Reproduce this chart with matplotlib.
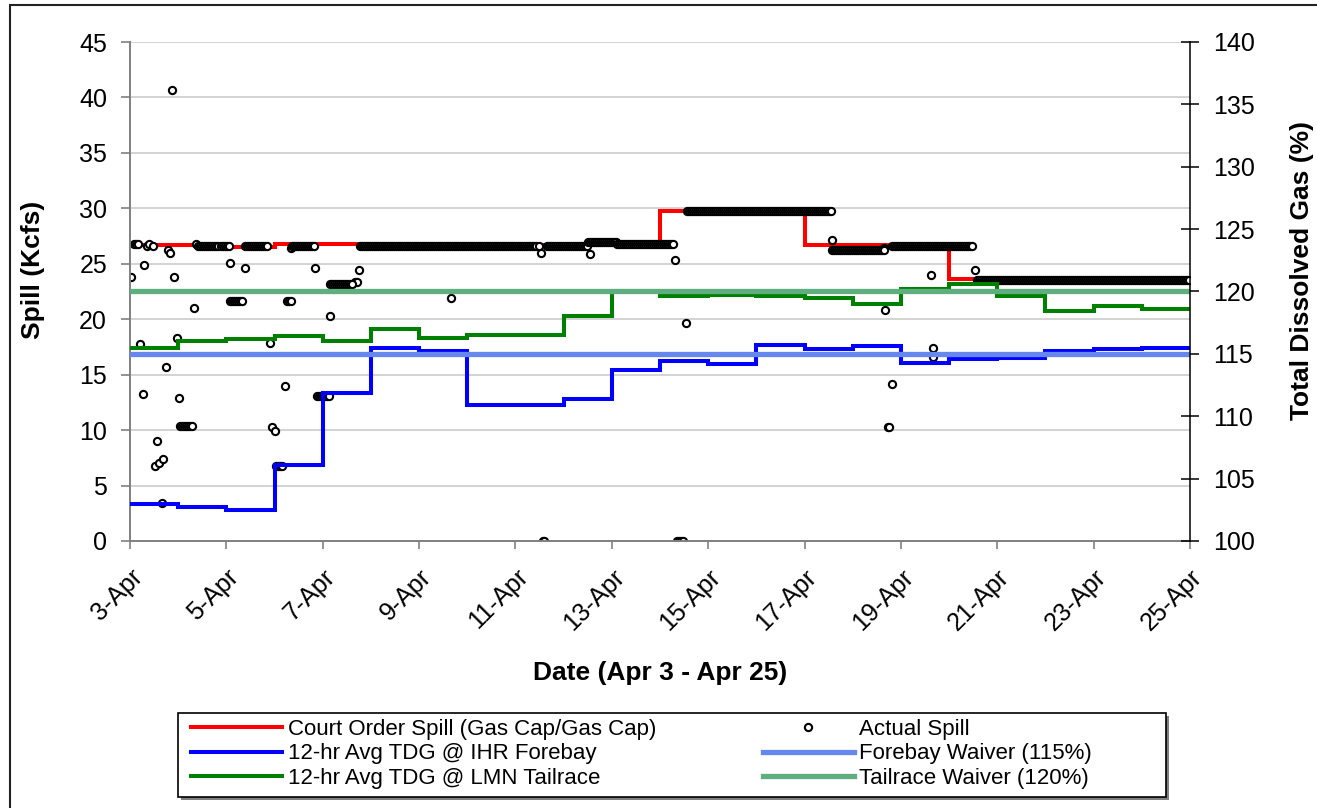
import matplotlib
matplotlib.use("Agg")
import matplotlib.pyplot as plt
import matplotlib.transforms as mtransforms
from matplotlib.patches import Rectangle
import numpy as np

plt.rcParams['font.family'] = ['Liberation Sans', 'DejaVu Sans']

# x axis: days after Apr 3 (0 = 3-Apr 00:00)
tick_days = [0, 2, 4, 6, 8, 10, 12, 14, 16, 18, 20, 22]
tick_labels = ["3-Apr", "5-Apr", "7-Apr", "9-Apr", "11-Apr", "13-Apr",
               "15-Apr", "17-Apr", "19-Apr", "21-Apr", "23-Apr", "25-Apr"]

# Court order spill (Kcfs), step changes
court_edges = [0, 1.4, 3, 8, 11, 14, 17, 22]
court_spill = [26.7, 26.5, 26.8, 26.7, 29.8, 26.7, 23.6]

# Actual hourly spill (Kcfs): isolated readings (day, kcfs)
spill_pts = [
    (0.03, 23.8), (0.21, 17.8), (0.26, 13.3), (0.30, 24.9), (0.35, 26.6),
    (0.40, 26.8), (0.48, 26.6), (0.52, 6.8), (0.57, 9.0), (0.61, 7.0),
    (0.66, 3.45), (0.69, 7.4), (0.75, 15.7), (0.79, 26.2), (0.83, 26.0),
    (0.88, 40.7), (0.92, 23.8), (0.97, 18.3), (1.01, 12.9), (1.33, 21.0),
    (1.38, 26.8), (2.08, 25.1), (2.38, 24.6), (2.91, 17.9), (2.94, 10.3),
    (3.00, 9.9), (3.22, 14.0), (3.34, 26.4), (3.84, 24.6), (4.15, 20.3),
    (4.68, 23.4), (4.72, 23.4), (4.76, 24.4), (6.66, 21.9), (8.53, 26.0),
    (8.58, 0.0), (8.60, 0.0), (9.55, 25.9), (11.31, 25.3), (11.53, 19.7),
    (14.58, 27.1), (15.65, 26.4), (15.68, 20.8), (15.73, 10.3), (15.76, 10.3),
    (15.82, 14.2), (16.62, 24.0), (16.66, 17.4), (16.66, 16.6), (17.54, 24.4),
]
# runs of constant hourly spill: (first day, number of hourly readings, kcfs)
spill_runs = [
    (0.08, 3, 26.8), (1.04, 7, 10.4), (1.42, 16, 26.6), (2.08, 7, 21.6),
    (2.39, 12, 26.6), (3.04, 4, 6.8), (3.25, 3, 21.6), (3.36, 12, 26.6),
    (3.88, 7, 13.1), (4.15, 12, 23.2), (4.77, 90, 26.6), (8.65, 21, 26.6),
    (9.51, 15, 27.0), (10.10, 29, 26.8), (11.35, 4, 0.0), (11.55, 73, 29.8),
    (14.56, 27, 26.2), (15.81, 41, 26.6), (17.57, 107, 23.5),
]

# 12-hr average TDG (%), daily steps
tdg_edges = list(range(23))
ihr_tdg = [103.0, 102.7, 102.5, 106.1, 111.9, 115.5, 115.2, 110.9, 110.9, 111.4, 113.7,
           114.4, 114.2, 115.7, 115.4, 115.6, 114.3, 114.6, 114.7, 115.2, 115.4, 115.5]
lmn_tdg = [115.5, 116.0, 116.2, 116.4, 116.0, 117.0, 116.3, 116.5, 116.5, 118.0, 120.0,
           119.6, 119.7, 119.6, 119.5, 119.0, 120.2, 120.6, 119.6, 118.4, 118.8, 118.6]
forebay_waiver = 115
tailrace_waiver = 120

# decode the hourly spill runs
sx = [d for d, v in spill_pts]
sy = [v for d, v in spill_pts]
for start, n, v in spill_runs:
    sx.extend(start + np.arange(n) / 24.0)
    sy.extend([v] * n)

W, H = 1317, 808
fig = plt.figure(figsize=(W / 100, H / 100), dpi=100)
ax = fig.add_axes([130 / W, 267 / H, 1060 / W, 499 / H])
ax2 = ax.twinx()

court = ax.stairs(court_spill, court_edges, baseline=None, color='#FF0000', lw=2.9,
                  label="Court Order Spill (Gas Cap/Gas Cap)")
actual, = ax.plot(sx, sy, 'o', ls='none', ms=5.2, mfc='white', mec='black', mew=1.5,
                  label="Actual Spill")

ihr = ax2.stairs(ihr_tdg, tdg_edges, baseline=None, color='#0000FF', lw=2.9,
                 label="12-hr Avg TDG @ IHR Forebay")
lmn = ax2.stairs(lmn_tdg, tdg_edges, baseline=None, color='#008000', lw=2.9,
                 label="12-hr Avg TDG @ LMN Tailrace")
fb = ax2.axhline(forebay_waiver, color='#6688EE', lw=3.8, label="Forebay Waiver (115%)")
tr = ax2.axhline(tailrace_waiver, color='#5FAE80', lw=3.8, label="Tailrace Waiver (120%)")

ax.set_xlim(0, 22)
ax.set_ylim(0, 45)
ax2.set_ylim(100, 140)
ax.set_yticks(np.arange(0, 46, 5))
ax2.set_yticks(np.arange(100, 141, 5))
ax.set_xticks(tick_days)
ax.set_xticklabels(tick_labels, rotation=45, ha='right', va='top', rotation_mode='anchor')
shift = mtransforms.ScaledTranslation(-6 / 100, 0, fig.dpi_scale_trans)
for lbl in ax.get_xticklabels():
    lbl.set_transform(lbl.get_transform() + shift)

ax.yaxis.grid(True, color='#C8C8C8', lw=1.1)
ax.set_axisbelow(True)

for s in ['top', 'right']:
    ax.spines[s].set_visible(False)
for s in ['top', 'left', 'bottom']:
    ax2.spines[s].set_visible(False)
ax.spines['left'].set_color('#808080')
ax.spines['bottom'].set_color('#808080')
ax.spines['left'].set_linewidth(1.4)
ax.spines['bottom'].set_linewidth(1.4)
ax2.spines['right'].set_color('black')
ax2.spines['right'].set_linewidth(1.1)

ax.tick_params(axis='y', direction='out', length=6.5, width=1.2, color='#808080',
               labelsize=18, pad=10)
ax.tick_params(axis='x', direction='out', length=6, width=1.2, color='#808080',
               labelsize=18, pad=11)
ax2.tick_params(axis='y', direction='inout', length=13, width=1.1, color='black',
                labelsize=18, pad=10)

ax.set_xlabel("Date (Apr 3 - Apr 25)", fontsize=19, fontweight='bold')
ax.xaxis.set_label_coords(0.5, (541 - 661) / 499)
ax.set_ylabel("Spill (Kcfs)", fontsize=19, fontweight='bold', va='center')
ax.yaxis.set_label_coords((33 - 130) / 1060, (541 - 270) / 499)
ax2.set_ylabel("Total Dissolved Gas (%)", fontsize=19, fontweight='bold', va='center')
ax2.yaxis.set_label_coords((1302 - 130) / 1060, (541 - 270) / 499)

# legend box with drop shadow
fig.add_artist(Rectangle((181 / W, 1 - 800 / H), 988 / W, 84 / H, transform=fig.transFigure,
                         facecolor='#808080', edgecolor='none', zorder=5))
fig.add_artist(Rectangle((178 / W, 1 - 797 / H), 988 / W, 84 / H, transform=fig.transFigure,
                         facecolor='white', edgecolor='black', lw=1.2, zorder=6))
leg = fig.legend([court, ihr, lmn, actual, fb, tr],
                 [h.get_label() for h in [court, ihr, lmn, actual, fb, tr]],
                 loc='upper left', bbox_to_anchor=(191 / W, 1 - 719 / H), ncol=2,
                 frameon=False, fontsize=16, handlelength=4.1, handletextpad=0.25,
                 columnspacing=4.8, labelspacing=0.15, borderpad=0, borderaxespad=0)
leg.set_zorder(7)

# outer chart border
fig.add_artist(Rectangle((9.5 / W, -0.5), 2, 1.5 - 4.7 / H, transform=fig.transFigure,
                         fill=False, edgecolor='#222222', lw=1.5, clip_on=False))

fig.savefig("out.png", dpi=100)
